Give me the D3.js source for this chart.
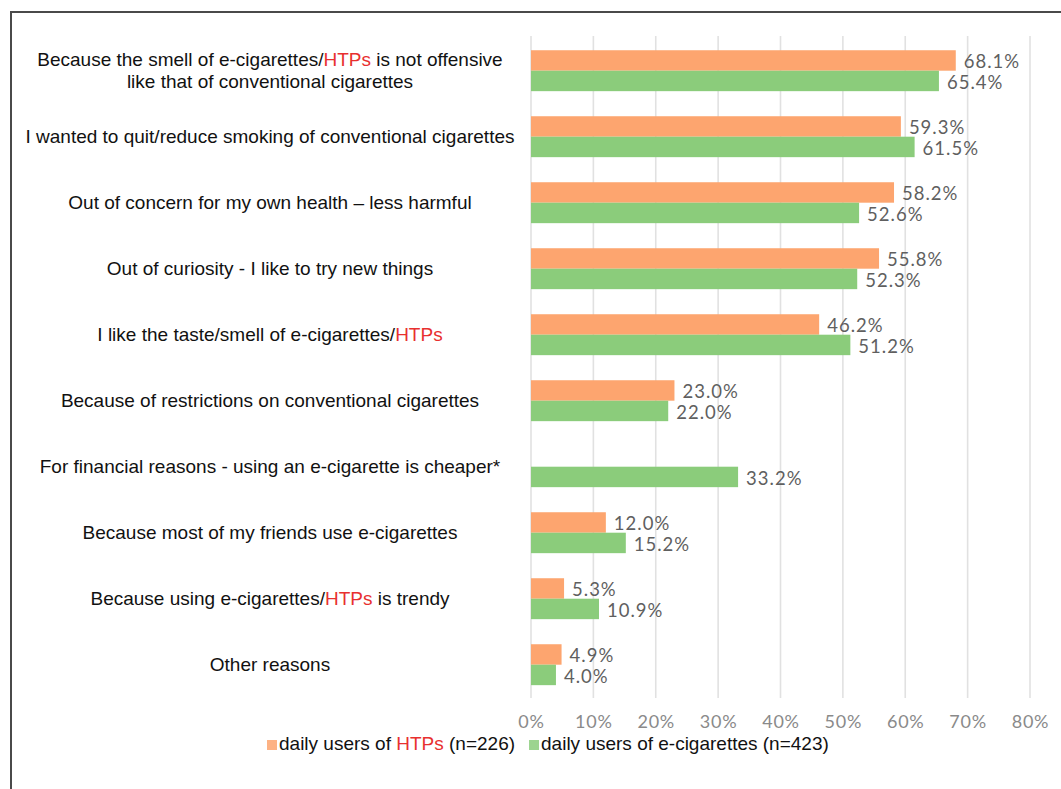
<!DOCTYPE html>
<html>
<head>
<meta charset="utf-8">
<script src="https://cdn.jsdelivr.net/npm/d3@7/dist/d3.min.js"></script>
<style>
  html, body { margin: 0; padding: 0; background: #fff; }
  svg { display: block; }
</style>
</head>
<body>
<svg id="chart" width="1061" height="789"></svg>
<script>
// Reasons for using e-cigarettes / HTPs, share of daily users (%)
const categories = [
  "Because the smell of e-cigarettes/HTPs is not offensive\nlike that of conventional cigarettes",
  "I wanted to quit/reduce smoking of conventional cigarettes",
  "Out of concern for my own health – less harmful",
  "Out of curiosity - I like to try new things",
  "I like the taste/smell of e-cigarettes/HTPs",
  "Because of restrictions on conventional cigarettes",
  "For financial reasons - using an e-cigarette is cheaper*",
  "Because most of my friends use e-cigarettes",
  "Because using e-cigarettes/HTPs is trendy",
  "Other reasons"
];
const htpUsers  = [68.1, 59.3, 58.2, 55.8, 46.2, 23.0, null, 12.0, 5.3, 4.9];
const ecigUsers = [65.4, 61.5, 52.6, 52.3, 51.2, 22.0, 33.2, 15.2, 10.9, 4.0];
const xTickValues = [0, 10, 20, 30, 40, 50, 60, 70, 80];
const seriesKeys = ["htp", "ecig"];
const seriesLegend = ["daily users of HTPs (n=226)", "daily users of e-cigarettes (n=423)"];

const colors = { htp: "#fda56f", ecig: "#8bcc7b" };
const highlightColor = "#e8302f";
const labelFont = "'Liberation Sans', Arial, sans-serif";
const valueFont = "Lato, 'Open Sans', sans-serif";
const labelSize = 19;

const svg = d3.select("#chart");

// outer frame (left and top edges visible)
svg.append("rect")
  .attr("x", 11).attr("y", 12)
  .attr("width", 1100).attr("height", 900)
  .attr("fill", "none")
  .attr("stroke", "#4a4a4a")
  .attr("stroke-width", 2);

const x = d3.scaleLinear().domain([0, 80]).range([531, 1030]);
const y = d3.scaleBand().domain(d3.range(categories.length))
  .range([37.7, 697.7]).paddingInner(0.38).paddingOuter(0.19);
const ySub = d3.scaleBand().domain(seriesKeys).range([0, y.bandwidth()]);

// vertical gridlines
svg.append("g").selectAll("line")
  .data(xTickValues)
  .join("line")
  .attr("x1", d => x(d)).attr("x2", d => x(d))
  .attr("y1", 36).attr("y2", 698)
  .attr("stroke", "#e1e1e1")
  .attr("stroke-width", 1.6);

// x axis tick labels
const xAxis = d3.axisBottom(x).tickValues(xTickValues).tickSize(0).tickFormat(d => d + "%");
const axG = svg.append("g").attr("transform", "translate(0,712)").call(xAxis);
axG.select(".domain").remove();
axG.selectAll("text")
  .attr("font-family", valueFont)
  .attr("font-size", 18)
  .attr("letter-spacing", 0.8)
  .attr("fill", "#8a8a8a");

// rows of data
const rows = categories.map((c, i) => ({ i, label: c, htp: htpUsers[i], ecig: ecigUsers[i] }));

const rowG = svg.append("g").selectAll("g")
  .data(rows)
  .join("g")
  .attr("transform", d => `translate(0,${y(d.i)})`);

rowG.selectAll("rect")
  .data(d => seriesKeys.filter(k => d[k] != null).map(k => ({ key: k, value: d[k] })))
  .join("rect")
  .attr("x", x(0))
  .attr("y", d => ySub(d.key))
  .attr("width", d => x(d.value) - x(0))
  .attr("height", ySub.bandwidth())
  .attr("fill", d => colors[d.key]);

rowG.selectAll("text.val")
  .data(d => seriesKeys.filter(k => d[k] != null).map(k => ({ key: k, value: d[k] })))
  .join("text")
  .attr("class", "val")
  .attr("x", d => x(d.value) + 8)
  .attr("y", d => ySub(d.key) + ySub.bandwidth() / 2 + 1.5)
  .attr("dy", "0.35em")
  .attr("font-family", valueFont)
  .attr("font-size", 18.5)
  .attr("letter-spacing", 1)
  .attr("fill", "#5f5f5f")
  .text(d => d.value.toFixed(1) + "%");

// appends text with the word "HTPs" coloured
function richText(textSel, str) {
  const parts = str.split(/(HTPs)/);
  parts.filter(p => p.length).forEach(p => {
    textSel.append("tspan")
      .attr("fill", p === "HTPs" ? highlightColor : "#111")
      .text(p);
  });
}

// category labels, centred
const labelCenterX = 270;
const lineH = 22;
rowG.each(function(d) {
  const g = d3.select(this);
  const lines = d.label.split("\n");
  const cy = y.bandwidth() / 2;
  lines.forEach((ln, j) => {
    const t = g.append("text")
      .attr("x", labelCenterX)
      .attr("y", cy + (j - (lines.length - 1) / 2) * lineH)
      .attr("dy", "0.35em")
      .attr("text-anchor", "middle")
      .attr("font-family", labelFont)
      .attr("font-size", labelSize);
    richText(t, ln);
  });
});

// legend
const legendY = 743;
const legG = svg.append("g").attr("font-family", labelFont).attr("font-size", labelSize);
let lx = 267;
seriesKeys.forEach((k, i) => {
  legG.append("rect")
    .attr("x", lx).attr("y", legendY - 3).attr("width", 10).attr("height", 10)
    .attr("fill", colors[k]).attr("opacity", 0.85);
  const t = legG.append("text")
    .attr("x", lx + 12).attr("y", legendY)
    .attr("dy", "0.35em");
  richText(t, seriesLegend[i]);
  lx += 12 + t.node().getComputedTextLength() + 14;
});
</script>
</body>
</html>
